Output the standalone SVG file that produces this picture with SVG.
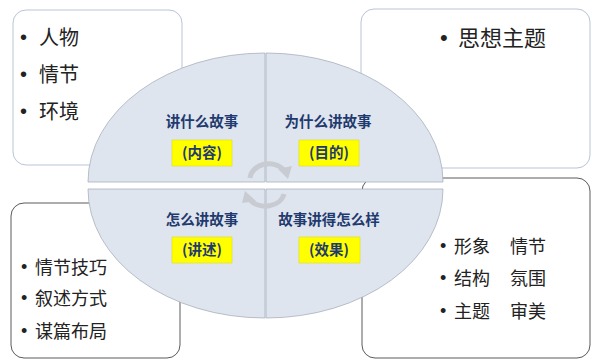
<svg xmlns="http://www.w3.org/2000/svg" width="592" height="360" viewBox="0 0 592 360">
<style>
.box{fill:#ffffff;stroke-width:1}
.lt{stroke:#b9c4d6}
.dk{stroke:#5a5a5a}
.q{fill:#dfe5ee;stroke:#a8b0bc;stroke-width:0.8}
.t{font-family:"Noto Sans CJK SC","Noto Sans",sans-serif;fill:#222}
.b{font-family:"Liberation Sans",sans-serif;fill:#222}
.h{font-family:"Noto Sans CJK SC","Noto Sans",sans-serif;font-weight:bold;fill:#1f3a6e;font-size:14.5px;text-anchor:middle}
.y{fill:#ffff00;stroke:#d9d900;stroke-width:0.5}
.arr{fill:none;stroke:#c8ccd2;stroke-width:5}
.ah{fill:#c8ccd2}
</style>
<g id="box-tl"><rect class="box lt" x="13" y="10" width="169" height="155" rx="13"/>
<text class="b" font-size="20"><tspan x="20" y="44">•</tspan><tspan x="20" y="81">•</tspan><tspan x="20" y="118">•</tspan></text>
<text class="t" font-size="20"><tspan x="39" y="45">人物</tspan><tspan x="39" y="82">情节</tspan><tspan x="39" y="119">环境</tspan></text></g>
<g id="box-tr"><rect class="box lt" x="361" y="9" width="229" height="159" rx="13"/>
<text class="b" font-size="22" x="440" y="45">•</text>
<text class="t" font-size="22" x="458" y="46">思想主题</text></g>
<g id="box-bl"><rect class="box dk" x="11" y="203" width="169" height="155" rx="13"/>
<text class="b" font-size="18"><tspan x="21" y="273">•</tspan><tspan x="21" y="304">•</tspan><tspan x="21" y="337">•</tspan></text>
<text class="t" font-size="18"><tspan x="35" y="274">情节技巧</tspan><tspan x="35" y="305">叙述方式</tspan><tspan x="35" y="338">谋篇布局</tspan></text></g>
<g id="box-br"><rect class="box dk" x="362" y="178" width="228" height="180" rx="13"/>
<text class="b" font-size="18"><tspan x="440" y="252">•</tspan><tspan x="440" y="284">•</tspan><tspan x="440" y="317">•</tspan></text>
<text class="t" font-size="18"><tspan x="454" y="253">形象</tspan><tspan x="510" y="253">情节</tspan><tspan x="454" y="285">结构</tspan><tspan x="510" y="285">氛围</tspan><tspan x="454" y="318">主题</tspan><tspan x="510" y="318">审美</tspan></text></g>
<g id="q-tl"><path class="q" d="M265,182 L88,182 A177,129 0 0 1 265,53 Z"/>
<text class="h" x="202" y="127">讲什么故事</text>
<rect class="y" x="172" y="140" width="60" height="26"/>
<text class="h" x="202" y="158">(内容)</text></g>
<g id="q-tr"><path class="q" d="M266,182 L266,53 A177,129 0 0 1 443,182 Z"/>
<text class="h" x="328" y="127">为什么讲故事</text>
<rect class="y" x="299" y="140" width="60" height="26"/>
<text class="h" x="329" y="158">(目的)</text></g>
<g id="q-bl"><path class="q" d="M265,189 L265,318 A177,129 0 0 1 88,189 Z"/>
<text class="h" x="202" y="225">怎么讲故事</text>
<rect class="y" x="172" y="237" width="60" height="26"/>
<text class="h" x="202" y="255">(讲述)</text></g>
<g id="q-br"><path class="q" d="M266,189 L443,189 A177,129 0 0 1 266,318 Z"/>
<text class="h" x="329" y="225">故事讲得怎么样</text>
<rect class="y" x="299" y="237" width="61" height="26"/>
<text class="h" x="329" y="255">(效果)</text></g>
<g id="connectors">
<path class="arr" d="M250,178 A19,16 0 0 1 284,170"/>
<polygon class="ah" points="278,169 292,166 288,179"/>
<path class="arr" d="M284,194 A19,15 0 0 1 250,200"/>
<polygon class="ah" points="256,201 242,203 245,191"/>
</g>
</svg>
